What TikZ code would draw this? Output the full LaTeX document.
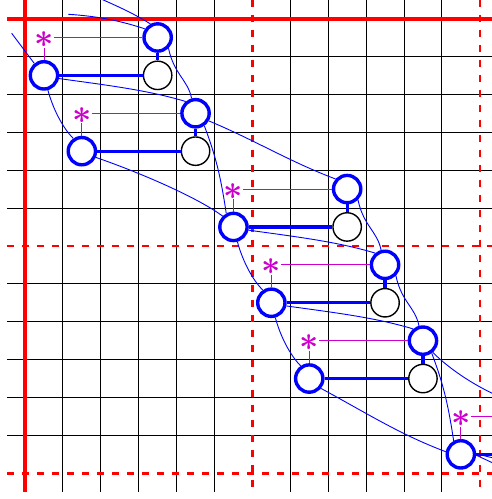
\documentclass[tikz,border=0pt]{standalone}
\usepackage{graphicx}
\definecolor{mag}{rgb}{0.8,0,0.8}
\begin{document}
\begin{tikzpicture}[x=37.9pt,y=-37.9pt,
  bnode/.style={circle,draw=blue,line width=3.4pt,fill=white,minimum size=27.3pt,inner sep=0pt},
  knode/.style={circle,draw=black,line width=1.4pt,fill=white,minimum size=28.4pt,inner sep=0pt},
  starnode/.style={inner sep=0pt,text height=20pt,text depth=0pt,text=mag,font=\Huge\boldmath},
  gridline/.style={black,line width=0.9pt},
  redthick/.style={red,line width=4pt},
  reddash/.style={red,line width=2.5pt,dash pattern=on 7.5pt off 7.5pt},
  arc/.style={blue,line width=0.9pt},
  link/.style={blue,line width=3.2pt},
  maglink/.style={mag,line width=0.9pt}]
\useasboundingbox (-0.65963,-0.48813) rectangle (12.3219,12.6781);
\clip (-0.65963,-0.48813) rectangle (12.3219,12.6781);
% grid
\foreach \k in {1,2,3,4,5,7,8,9,10,11} {
  \draw[gridline] (-0.475,\k) -- (12.6,\k);
  \draw[gridline] (\k,-0.6) -- (\k,12.49);
}
\draw[redthick] (-0.475,0) -- (12.6,0);
\draw[redthick] (0,-0.6) -- (0,12.49);
\draw[reddash] (-0.475,6) -- (12.6,6);
\draw[reddash] (-0.475,12) -- (12.6,12);
\draw[reddash] (6,-0.49) -- (6,12.49);
\draw[reddash] (12,-0.49) -- (12,12.49);
% nodes
\foreach \i/\ax/\ay/\bx/\by in {0/0.5/1.5/3.5/0.5, 1/1.5/3.5/4.5/2.5, 2/5.5/5.5/8.5/4.5,
    3/6.5/7.5/9.5/6.5, 4/7.5/9.5/10.5/8.5, 5/11.5/11.5/14.5/10.5} {
  \node[knode] (K\i) at (\bx,\ay) {};
  \node[bnode] (A\i) at (\ax,\ay) {};
  \node[bnode] (B\i) at (\bx,\by) {};
  \node[starnode] (S\i) at (\ax,\by) {\scalebox{1.35}{$\ast$}};
}
% links
\foreach \i in {0,...,5} {
  \draw[maglink] (S\i) -- (A\i);
  \draw[maglink] (S\i) -- (B\i);
  \draw[link] (A\i) -- (K\i);
  \draw[link] (B\i) -- (K\i);
}
% free ends
\coordinate (st1) at (-0.351,0.39);
\coordinate (st2) at (1.142,-0.111);
\coordinate (st3) at (1.715,-0.646);
\coordinate (e5a) at (12.797,11.702);
\coordinate (e5b) at (12.797,11.94);
% incoming
\draw[arc] (st1) -- (A0.129);
\draw[arc] (st2) .. controls +(0.8,0.05) and +(-0.6,-0.2) .. (B0.146);
\draw[arc] (st3) .. controls +(0.9,0.4) and +(-0.5,-0.3) .. (B0.118);
% A to A (steep)
\draw[arc] (A0.-75) .. controls +(0.12,0.45) and +(-0.3,-0.3) .. (A1.124);
\draw[arc] (A2.-75) .. controls +(0.12,0.45) and +(-0.3,-0.3) .. (A3.124);
\draw[arc] (A3.-75) .. controls +(0.12,0.45) and +(-0.3,-0.3) .. (A4.124);
% A to B
\draw[arc] (A0.-12) .. controls +(1.3,0.18) and +(-1.0,-0.3) .. (B1.130);
\draw[arc] (A2.-12) .. controls +(1.3,0.18) and +(-1.0,-0.3) .. (B3.130);
\draw[arc] (A3.-12) .. controls +(1.3,0.18) and +(-1.0,-0.3) .. (B4.130);
% B to B (steep)
\draw[arc] (B0.-45) .. controls +(0.15,0.7) and +(-0.1,-0.5) .. (B1.105);
\draw[arc] (B2.-45) .. controls +(0.15,0.7) and +(-0.1,-0.5) .. (B3.105);
\draw[arc] (B3.-45) .. controls +(0.15,0.7) and +(-0.1,-0.5) .. (B4.105);
% B to A
\draw[arc] (B1.-55) .. controls +(0.3,0.8) and +(-0.15,-1.0) .. (A2.118);
\draw[arc] (B4.-55) .. controls +(0.3,0.8) and +(-0.15,-1.0) .. (A5.118);
% wide jumps
\draw[arc] (A1.-24) .. controls +(1.3,0.45) and +(-0.6,-0.45) .. (A2.135);
\draw[arc] (A4.-40) .. controls +(1.2,0.65) and +(-1.2,-0.45) .. (A5.170);
\draw[arc] (B1.-30) .. controls +(1.2,0.5) and +(-1.2,-0.45) .. (B2.139);
\draw[arc] (B4.-50) .. controls +(0.6,0.6) and +(-1.5,-0.2) .. (B5.170);
% outgoing
\draw[arc] (A5.2) -- (e5a);
\draw[arc] (A5.-3) -- (e5b);
\end{tikzpicture}
\end{document}
